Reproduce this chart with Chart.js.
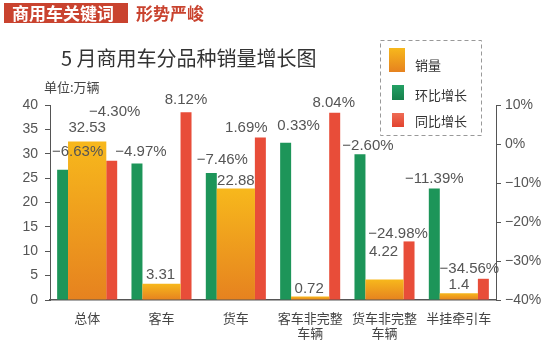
<!DOCTYPE html>
<html><head><meta charset="utf-8">
<script src="https://cdn.jsdelivr.net/npm/chart.js@4.4.0/dist/chart.umd.min.js"></script>
<style>html,body{margin:0;padding:0;background:#fff;}canvas{display:block;}</style>
</head><body>
<canvas id="c" width="550" height="347"></canvas>
<script>
// ---- data ----
const categories = ['总体', '客车', '货车', ['客车非完整', '车辆'], ['货车非完整', '车辆'], '半挂牵引车'];
const salesValues = [32.53, 3.31, 22.88, 0.72, 4.22, 1.4];      // 销量 (万辆)
const momGrowth = [-6.63, -4.97, -7.46, 0.33, -2.60, -11.39];    // 环比增长 (%)
const yoyGrowth = [-4.30, 8.12, 1.69, 8.04, -24.98, -34.56];     // 同比增长 (%)
const seriesNames = ['销量', '环比增长', '同比增长'];
const salesAxis = { min: 0, max: 40, step: 5 };
const pctAxis = { min: -40, max: 10, step: 10 };
const titleText = '5 月商用车分品种销量增长图';
const unitText = '单位:万辆';
const headerTag = '商用车关键词';
const headerWord = '形势严峻';

// ---- styling ----
const NUM = "'Liberation Sans', 'Noto Sans CJK SC', sans-serif";
const CJK = "'Noto Sans CJK SC', 'Liberation Sans', sans-serif";
const GREEN = '#1d9559', RED = '#e84d39', AXIS = '#555';
const fmtPct = v => (v < 0 ? '\u2212' : '') + Math.abs(v).toFixed(2) + '%';

// label nudges [dx, dy] relative to bar top (per dataset, per category)
const labelNudge = [
  [[0, -14], [-1, -9], [0, -8], [-1, -8], [-1, -28], [0, -8]],
  [[15, -18], [4, -12], [11, -13], [13, -17], [8, -8], [0, -10]],
  [[3, -49], [0, -12], [-14, -10], [-1, -10], [-11, -8], [-14, -10]]
];

function orangeFill(ctx) {
  const chart = ctx.chart, ys = chart.scales && chart.scales.y;
  if (ctx.type !== 'data' || !ys || !chart.chartArea) return '#f0a020';
  const top = ys.getPixelForValue(ctx.raw), bottom = ys.getPixelForValue(0);
  const g = chart.ctx.createLinearGradient(0, top, 0, bottom);
  g.addColorStop(0, '#f7b81c'); g.addColorStop(1, '#e6821f');
  return g;
}

const decorPlugin = {
  id: 'decor',
  beforeDraw(chart) {
    const c = chart.ctx;
    c.save();
    c.fillStyle = '#fff'; c.fillRect(0, 0, chart.width, chart.height);
    // header
    c.fillStyle = '#c9432f'; c.fillRect(4, 3, 124, 20);
    c.textBaseline = 'middle'; c.textAlign = 'left';
    c.font = 'bold 17px ' + CJK; c.fillStyle = '#fff';
    c.fillText(headerTag, 12, 13.5);
    c.fillStyle = '#c9432f'; c.fillText(headerWord, 136, 13.5);
    // title + unit
    c.font = '20px ' + CJK; c.fillStyle = '#333';
    c.fillText(titleText, 61, 58);
    c.font = '13px ' + CJK; c.fillStyle = '#444';
    c.fillText(unitText, 44, 87);
    c.restore();
  },
  afterDraw(chart) {
    const c = chart.ctx;
    c.save();
    c.setLineDash([4, 3]); c.strokeStyle = '#999'; c.lineWidth = 1;
    c.strokeRect(380.5, 40.5, 101, 95);
    c.setLineDash([]);
    const sw = [[389, 48, 16, 24], [392, 85, 12, 15], [392, 113, 12, 14]];
    const ty = [65, 95, 121];
    const cols = [['#f7b81c', '#e6821f'], ['#23a064', '#17804c'], ['#ee6c55', '#e2432f']];
    seriesNames.forEach((name, i) => {
      const [x, y, w, h] = sw[i];
      const g = c.createLinearGradient(0, y, 0, y + h);
      g.addColorStop(0, cols[i][0]); g.addColorStop(1, cols[i][1]);
      c.fillStyle = g; c.fillRect(x, y, w, h);
      c.font = '13px ' + CJK; c.fillStyle = '#333';
      c.textAlign = 'left'; c.textBaseline = 'middle';
      c.fillText(name, 415, ty[i]);
    });
    c.restore();
  },
  afterDatasetsDraw(chart) {
    const c = chart.ctx;
    c.save();
    c.font = '15px ' + NUM; c.fillStyle = '#555';
    c.textAlign = 'center'; c.textBaseline = 'middle';
    chart.data.datasets.forEach((ds, di) => {
      const meta = chart.getDatasetMeta(di);
      meta.data.forEach((el, i) => {
        const v = ds.data[i];
        const txt = di === 0 ? String(v) : fmtPct(v);
        const [dx, dy] = labelNudge[di][i];
        c.fillText(txt, el.x + dx, el.y + dy);
      });
    });
    c.restore();
  }
};

new Chart(document.getElementById('c'), {
  type: 'bar',
  data: {
    labels: categories,
    datasets: [
      { label: seriesNames[0], data: salesValues, yAxisID: 'y', grouped: false,
        categoryPercentage: 1, barPercentage: 0.515, backgroundColor: orangeFill },
      { label: seriesNames[1], data: momGrowth, yAxisID: 'y1', base: pctAxis.min,
        categoryPercentage: 1.32, barPercentage: 0.224, backgroundColor: GREEN },
      { label: seriesNames[2], data: yoyGrowth, yAxisID: 'y1', base: pctAxis.min,
        categoryPercentage: 1.32, barPercentage: 0.224, backgroundColor: RED }
    ]
  },
  options: {
    responsive: false, animation: false, devicePixelRatio: 1,
    layout: { padding: { top: 105, left: 0, right: 0, bottom: 0 } },
    plugins: { legend: { display: false }, tooltip: { enabled: false }, title: { display: false } },
    scales: {
      x: {
        grid: { display: false, drawTicks: false },
        border: { display: true, color: AXIS, width: 1.5 },
        ticks: { color: '#444', font: { family: CJK, size: 13 }, padding: 10, maxRotation: 0, autoSkip: false },
        afterFit: s => { s.height = 47; }
      },
      y: {
        position: 'left', min: salesAxis.min, max: salesAxis.max,
        grid: { drawOnChartArea: false, drawTicks: true, tickLength: 5, color: AXIS },
        border: { display: true, color: AXIS, width: 1 },
        ticks: { stepSize: salesAxis.step, color: '#555', font: { family: NUM, size: 14 }, padding: 7 },
        afterFit: s => { s.width = 50; }
      },
      y1: {
        position: 'right', min: pctAxis.min, max: pctAxis.max,
        grid: { drawOnChartArea: false, drawTicks: true, tickLength: 5, color: AXIS },
        border: { display: true, color: AXIS, width: 1 },
        ticks: { stepSize: pctAxis.step, color: '#555', font: { family: NUM, size: 14 }, padding: 4,
                 callback: v => (v < 0 ? '\u2212' : '') + Math.abs(v) + '%' },
        afterFit: s => { s.width = 54; }
      }
    }
  },
  plugins: [decorPlugin]
});
</script></body></html>
